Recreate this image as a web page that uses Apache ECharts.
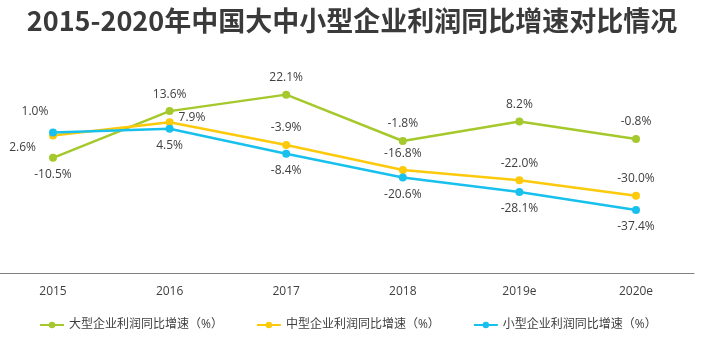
<!DOCTYPE html>
<html>
<head>
<meta charset="utf-8">
<script src="https://cdn.jsdelivr.net/npm/echarts@6/dist/echarts.min.js"></script>
<style>
  html, body { margin: 0; padding: 0; background: #ffffff; }
  #chart { width: 704px; height: 348px; }
</style>
</head>
<body>
<div id="chart"></div>
<script>
// Profit growth (year on year, %) of Chinese enterprises by size, 2015-2020
const years = ['2015', '2016', '2017', '2018', '2019e', '2020e'];
const largeGrowth = [-10.5, 13.6, 22.1, -1.8, 8.2, -0.8];
const mediumGrowth = [1.0, 7.9, -3.9, -16.8, -22.0, -30.0];
const smallGrowth = [2.6, 4.5, -8.4, -20.6, -28.1, -37.4];
const seriesNames = ['大型企业利润同比增速（%）', '中型企业利润同比增速（%）', '小型企业利润同比增速（%）'];
const seriesColors = ['#a5c92c', '#fdc90b', '#18c0ee'];

const FONT = '"Open Sans", "Noto Sans CJK SC", sans-serif';

const labelBase = {
  show: true,
  fontSize: 12,
  color: '#404040',
  fontFamily: FONT,
  distance: 7,
  formatter: p => p.value.toFixed(1) + '%'
};

// per-point label placement tweaks where the lines cross near 2015/2016
function buildData(values, overrides) {
  return values.map((v, i) => {
    const o = overrides[i];
    if (!o) return v;
    return { value: v, label: o };
  });
}

const largeData = buildData(largeGrowth, {
  0: { position: 'bottom' }
});
const mediumData = buildData(mediumGrowth, {
  0: { position: 'top', offset: [-18, -7] },
  1: { position: 'right', distance: 5, offset: [0, -5] }
});
const smallData = buildData(smallGrowth, {
  0: { position: 'left', distance: 13, offset: [0, 15] }
});

function lineSeries(name, data, color, pos) {
  return {
    name: name,
    type: 'line',
    xAxisIndex: 0,
    yAxisIndex: 0,
    data: data,
    symbol: 'circle',
    symbolSize: 8,
    lineStyle: { width: 2.5, color: color },
    itemStyle: { color: color },
    label: Object.assign({}, labelBase, { position: pos }),
    emphasis: { disabled: true },
    animation: false
  };
}

const plotTop = 59.9;
const plotHeight = 213.4;

const chart = echarts.init(document.getElementById('chart'), null, { renderer: 'canvas' });
chart.setOption({
  backgroundColor: '#ffffff',
  animation: false,
  title: {
    text: '2015-2020年中国大中小型企业利润同比增速对比情况',
    left: 'center',
    top: 2,
    textStyle: {
      fontFamily: '"Noto Sans CJK SC", sans-serif',
      fontWeight: 'bold',
      fontSize: 27,
      color: '#3a3a3a'
    }
  },
  legend: {
    data: seriesNames,
    left: 39,
    top: 319,
    padding: 0,
    itemWidth: 24,
    itemHeight: 8,
    itemGap: 33,
    textStyle: { fontSize: 12, color: '#404040', fontFamily: FONT }
  },
  grid: [
    // plotting area: first and last categories sit on the edges
    { left: 53, right: 68, top: plotTop, height: plotHeight },
    // full-width baseline under the plot
    { left: 0, right: 10, top: plotTop, height: plotHeight }
  ],
  xAxis: [
    {
      type: 'category',
      gridIndex: 0,
      data: years,
      boundaryGap: false,
      axisLine: { show: false, onZero: false },
      axisTick: { show: false },
      axisLabel: { color: '#404040', fontSize: 12, fontFamily: FONT, margin: 12 },
      splitLine: { show: false }
    },
    {
      type: 'category',
      gridIndex: 1,
      data: years,
      axisLine: { show: true, onZero: false, lineStyle: { color: '#808080', width: 1 } },
      axisTick: { show: false },
      axisLabel: { show: false },
      splitLine: { show: false }
    }
  ],
  yAxis: [
    { type: 'value', gridIndex: 0, min: -70, max: 40, interval: 10, show: false, splitLine: { show: false } },
    { type: 'value', gridIndex: 1, min: -70, max: 40, interval: 10, show: false, splitLine: { show: false } }
  ],
  series: [
    lineSeries(seriesNames[0], largeData, seriesColors[0], 'top'),
    lineSeries(seriesNames[1], mediumData, seriesColors[1], 'top'),
    lineSeries(seriesNames[2], smallData, seriesColors[2], 'bottom')
  ]
});
</script>
</body>
</html>
